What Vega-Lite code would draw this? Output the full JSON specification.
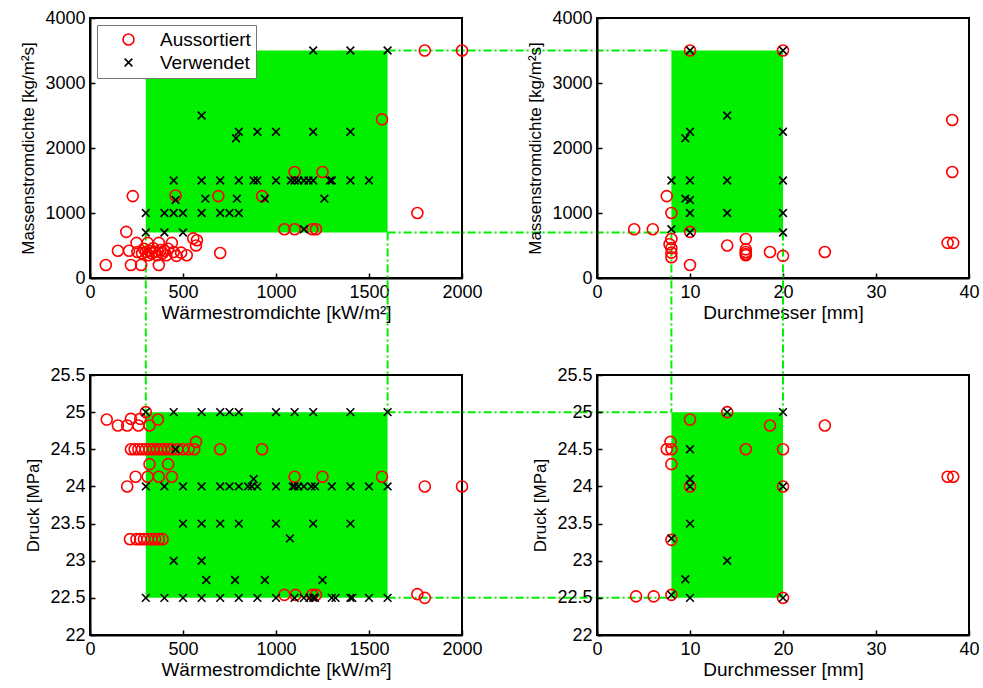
{
  "$schema": "https://vega.github.io/schema/vega-lite/v6.json",
  "padding": {"left": 18, "top": 8, "right": 2, "bottom": 4},
  "columns": 2,
  "spacing": {"row": 97, "column": 135},
  "bounds": "flush",
  "resolve": {"legend": {"color": "independent", "shape": "independent"}},
  "config": {
    "font": "Liberation Sans",
    "view": {"stroke": "black", "strokeWidth": 2},
    "axis": {
      "labelFont": "Liberation Sans", "titleFont": "Liberation Sans",
      "labelFontSize": 18, "titleFontSize": 17, "titleFontWeight": "normal",
      "labelColor": "black", "titleColor": "black",
      "domainColor": "black", "domainWidth": 2,
      "tickColor": "black", "tickWidth": 1.5, "tickSize": -5,
      "labelPadding": 10, "grid": false, "labelFlush": false, "labelOverlap": false, "labelSeparation": -40
    },
    "axisX": {"titleFontSize": 19, "titlePadding": 2},
    "axisY": {"titlePadding": 7},
    "legend": {
      "labelFont": "Liberation Sans", "labelFontSize": 19, "labelColor": "black",
      "strokeColor": "#777777", "fillColor": "white", "padding": 5,
      "symbolSize": 121, "symbolStrokeWidth": 1.6, "symbolOffset": 17, "labelOffset": 22, "rowPadding": 3
    },
    "point": {"opacity": 1}
  },
  "datasets": {
    "bereich": [{"q_min": 300, "q_max": 1600, "G_min": 700, "G_max": 3500, "d_min": 8, "d_max": 20, "p_min": 22.5, "p_max": 25}],
    "linien_ol": [
      {"q": 1600, "q_end": 3126, "G": 3500, "G_end": 3500},
      {"q": 1600, "q_end": 3126, "G": 700, "G_end": 700},
      {"q": 300, "q_end": 300, "G": 700, "G_end": -2064},
      {"q": 1600, "q_end": 1600, "G": 700, "G_end": -2064}
    ],
    "linien_or": [
      {"d": 8, "d_end": 8, "G": 700, "G_end": -2064},
      {"d": 20, "d_end": 20, "G": 700, "G_end": -2064}
    ],
    "linien_ul": [
      {"q": 1600, "q_end": 3126, "p": 25, "p_end": 25},
      {"q": 1600, "q_end": 3126, "p": 22.5, "p_end": 22.5}
    ],
    "oben_links": [
      {"q": 85, "G": 200, "Status": "Aussortiert"}, {"q": 150, "G": 420, "Status": "Aussortiert"},
      {"q": 195, "G": 710, "Status": "Aussortiert"}, {"q": 210, "G": 420, "Status": "Aussortiert"},
      {"q": 220, "G": 200, "Status": "Aussortiert"}, {"q": 230, "G": 1260, "Status": "Aussortiert"},
      {"q": 250, "G": 540, "Status": "Aussortiert"}, {"q": 255, "G": 400, "Status": "Aussortiert"},
      {"q": 275, "G": 200, "Status": "Aussortiert"}, {"q": 280, "G": 380, "Status": "Aussortiert"},
      {"q": 290, "G": 450, "Status": "Aussortiert"}, {"q": 300, "G": 400, "Status": "Aussortiert"},
      {"q": 310, "G": 540, "Status": "Aussortiert"}, {"q": 315, "G": 350, "Status": "Aussortiert"},
      {"q": 320, "G": 420, "Status": "Aussortiert"}, {"q": 330, "G": 380, "Status": "Aussortiert"},
      {"q": 340, "G": 460, "Status": "Aussortiert"}, {"q": 350, "G": 400, "Status": "Aussortiert"},
      {"q": 360, "G": 350, "Status": "Aussortiert"}, {"q": 370, "G": 200, "Status": "Aussortiert"},
      {"q": 370, "G": 540, "Status": "Aussortiert"}, {"q": 380, "G": 430, "Status": "Aussortiert"},
      {"q": 390, "G": 380, "Status": "Aussortiert"}, {"q": 400, "G": 420, "Status": "Aussortiert"},
      {"q": 410, "G": 350, "Status": "Aussortiert"}, {"q": 420, "G": 450, "Status": "Aussortiert"},
      {"q": 440, "G": 540, "Status": "Aussortiert"}, {"q": 450, "G": 400, "Status": "Aussortiert"},
      {"q": 460, "G": 1270, "Status": "Aussortiert"}, {"q": 465, "G": 340, "Status": "Aussortiert"},
      {"q": 490, "G": 390, "Status": "Aussortiert"}, {"q": 520, "G": 350, "Status": "Aussortiert"},
      {"q": 555, "G": 610, "Status": "Aussortiert"}, {"q": 570, "G": 500, "Status": "Aussortiert"},
      {"q": 575, "G": 580, "Status": "Aussortiert"}, {"q": 690, "G": 1260, "Status": "Aussortiert"},
      {"q": 700, "G": 385, "Status": "Aussortiert"}, {"q": 925, "G": 1260, "Status": "Aussortiert"},
      {"q": 1045, "G": 750, "Status": "Aussortiert"}, {"q": 1100, "G": 750, "Status": "Aussortiert"},
      {"q": 1100, "G": 1630, "Status": "Aussortiert"}, {"q": 1195, "G": 750, "Status": "Aussortiert"},
      {"q": 1215, "G": 750, "Status": "Aussortiert"}, {"q": 1250, "G": 1630, "Status": "Aussortiert"},
      {"q": 1570, "G": 2440, "Status": "Aussortiert"}, {"q": 1760, "G": 1000, "Status": "Aussortiert"},
      {"q": 1800, "G": 3500, "Status": "Aussortiert"}, {"q": 2000, "G": 3500, "Status": "Aussortiert"},
      {"q": 300, "G": 1000, "Status": "Verwendet"}, {"q": 400, "G": 1000, "Status": "Verwendet"},
      {"q": 450, "G": 1000, "Status": "Verwendet"}, {"q": 500, "G": 1000, "Status": "Verwendet"},
      {"q": 600, "G": 1000, "Status": "Verwendet"}, {"q": 700, "G": 1000, "Status": "Verwendet"},
      {"q": 750, "G": 1000, "Status": "Verwendet"}, {"q": 800, "G": 1000, "Status": "Verwendet"},
      {"q": 300, "G": 700, "Status": "Verwendet"}, {"q": 400, "G": 700, "Status": "Verwendet"},
      {"q": 500, "G": 700, "Status": "Verwendet"},
      {"q": 450, "G": 1500, "Status": "Verwendet"}, {"q": 600, "G": 1500, "Status": "Verwendet"},
      {"q": 700, "G": 1500, "Status": "Verwendet"}, {"q": 800, "G": 1500, "Status": "Verwendet"},
      {"q": 880, "G": 1500, "Status": "Verwendet"}, {"q": 900, "G": 1500, "Status": "Verwendet"},
      {"q": 1000, "G": 1500, "Status": "Verwendet"}, {"q": 1080, "G": 1500, "Status": "Verwendet"},
      {"q": 1100, "G": 1500, "Status": "Verwendet"}, {"q": 1120, "G": 1500, "Status": "Verwendet"},
      {"q": 1150, "G": 1500, "Status": "Verwendet"}, {"q": 1175, "G": 1500, "Status": "Verwendet"},
      {"q": 1200, "G": 1500, "Status": "Verwendet"}, {"q": 1290, "G": 1500, "Status": "Verwendet"},
      {"q": 1300, "G": 1500, "Status": "Verwendet"}, {"q": 1400, "G": 1500, "Status": "Verwendet"},
      {"q": 1500, "G": 1500, "Status": "Verwendet"},
      {"q": 460, "G": 1200, "Status": "Verwendet"}, {"q": 620, "G": 1220, "Status": "Verwendet"},
      {"q": 790, "G": 1220, "Status": "Verwendet"}, {"q": 940, "G": 1220, "Status": "Verwendet"},
      {"q": 1260, "G": 1220, "Status": "Verwendet"}, {"q": 1150, "G": 750, "Status": "Verwendet"},
      {"q": 800, "G": 2250, "Status": "Verwendet"}, {"q": 900, "G": 2250, "Status": "Verwendet"},
      {"q": 1000, "G": 2250, "Status": "Verwendet"}, {"q": 1200, "G": 2250, "Status": "Verwendet"},
      {"q": 1400, "G": 2250, "Status": "Verwendet"}, {"q": 785, "G": 2150, "Status": "Verwendet"},
      {"q": 600, "G": 2500, "Status": "Verwendet"}, {"q": 1200, "G": 3500, "Status": "Verwendet"},
      {"q": 1400, "G": 3500, "Status": "Verwendet"}, {"q": 1600, "G": 3500, "Status": "Verwendet"}
    ],
    "oben_rechts": [
      {"d": 10, "G": 3500, "Status": "Aussortiert"}, {"d": 20, "G": 3500, "Status": "Aussortiert"},
      {"d": 7.5, "G": 1260, "Status": "Aussortiert"}, {"d": 8, "G": 1000, "Status": "Aussortiert"},
      {"d": 4, "G": 750, "Status": "Aussortiert"}, {"d": 6, "G": 750, "Status": "Aussortiert"},
      {"d": 10, "G": 710, "Status": "Aussortiert"}, {"d": 8, "G": 600, "Status": "Aussortiert"},
      {"d": 7.8, "G": 520, "Status": "Aussortiert"}, {"d": 8, "G": 460, "Status": "Aussortiert"},
      {"d": 8, "G": 390, "Status": "Aussortiert"}, {"d": 8, "G": 320, "Status": "Aussortiert"},
      {"d": 10, "G": 200, "Status": "Aussortiert"}, {"d": 14, "G": 500, "Status": "Aussortiert"},
      {"d": 16, "G": 600, "Status": "Aussortiert"}, {"d": 16, "G": 440, "Status": "Aussortiert"},
      {"d": 16, "G": 400, "Status": "Aussortiert"}, {"d": 16, "G": 370, "Status": "Aussortiert"},
      {"d": 16, "G": 350, "Status": "Aussortiert"}, {"d": 18.6, "G": 400, "Status": "Aussortiert"},
      {"d": 20, "G": 340, "Status": "Aussortiert"}, {"d": 24.5, "G": 400, "Status": "Aussortiert"},
      {"d": 38.2, "G": 2430, "Status": "Aussortiert"}, {"d": 38.2, "G": 1630, "Status": "Aussortiert"},
      {"d": 37.7, "G": 540, "Status": "Aussortiert"}, {"d": 38.3, "G": 540, "Status": "Aussortiert"},
      {"d": 10, "G": 3500, "Status": "Verwendet"}, {"d": 20, "G": 3500, "Status": "Verwendet"},
      {"d": 14, "G": 2500, "Status": "Verwendet"}, {"d": 10, "G": 2250, "Status": "Verwendet"},
      {"d": 9.5, "G": 2150, "Status": "Verwendet"}, {"d": 20, "G": 2250, "Status": "Verwendet"},
      {"d": 8, "G": 1500, "Status": "Verwendet"}, {"d": 10, "G": 1500, "Status": "Verwendet"},
      {"d": 14, "G": 1500, "Status": "Verwendet"}, {"d": 20, "G": 1500, "Status": "Verwendet"},
      {"d": 9.5, "G": 1220, "Status": "Verwendet"}, {"d": 10, "G": 1200, "Status": "Verwendet"},
      {"d": 10, "G": 1000, "Status": "Verwendet"}, {"d": 14, "G": 1000, "Status": "Verwendet"},
      {"d": 20, "G": 1000, "Status": "Verwendet"}, {"d": 8, "G": 750, "Status": "Verwendet"},
      {"d": 10, "G": 700, "Status": "Verwendet"}, {"d": 20, "G": 700, "Status": "Verwendet"}
    ],
    "unten_links": [
      {"q": 90, "p": 24.9, "Status": "Aussortiert"}, {"q": 150, "p": 24.82, "Status": "Aussortiert"},
      {"q": 200, "p": 24.82, "Status": "Aussortiert"}, {"q": 220, "p": 24.91, "Status": "Aussortiert"},
      {"q": 260, "p": 24.82, "Status": "Aussortiert"}, {"q": 270, "p": 24.91, "Status": "Aussortiert"},
      {"q": 300, "p": 25.0, "Status": "Aussortiert"}, {"q": 320, "p": 24.82, "Status": "Aussortiert"},
      {"q": 365, "p": 24.9, "Status": "Aussortiert"},
      {"q": 220, "p": 24.5, "Status": "Aussortiert"}, {"q": 240, "p": 24.5, "Status": "Aussortiert"},
      {"q": 260, "p": 24.5, "Status": "Aussortiert"}, {"q": 280, "p": 24.5, "Status": "Aussortiert"},
      {"q": 300, "p": 24.5, "Status": "Aussortiert"}, {"q": 320, "p": 24.5, "Status": "Aussortiert"},
      {"q": 340, "p": 24.5, "Status": "Aussortiert"}, {"q": 360, "p": 24.5, "Status": "Aussortiert"},
      {"q": 380, "p": 24.5, "Status": "Aussortiert"}, {"q": 400, "p": 24.5, "Status": "Aussortiert"},
      {"q": 420, "p": 24.5, "Status": "Aussortiert"}, {"q": 440, "p": 24.5, "Status": "Aussortiert"},
      {"q": 470, "p": 24.5, "Status": "Aussortiert"}, {"q": 500, "p": 24.5, "Status": "Aussortiert"},
      {"q": 530, "p": 24.5, "Status": "Aussortiert"}, {"q": 560, "p": 24.5, "Status": "Aussortiert"},
      {"q": 700, "p": 24.5, "Status": "Aussortiert"}, {"q": 925, "p": 24.5, "Status": "Aussortiert"},
      {"q": 570, "p": 24.6, "Status": "Aussortiert"}, {"q": 320, "p": 24.3, "Status": "Aussortiert"},
      {"q": 420, "p": 24.3, "Status": "Aussortiert"}, {"q": 245, "p": 24.13, "Status": "Aussortiert"},
      {"q": 310, "p": 24.13, "Status": "Aussortiert"}, {"q": 370, "p": 24.13, "Status": "Aussortiert"},
      {"q": 440, "p": 24.13, "Status": "Aussortiert"}, {"q": 200, "p": 24.0, "Status": "Aussortiert"},
      {"q": 1100, "p": 24.13, "Status": "Aussortiert"}, {"q": 1250, "p": 24.13, "Status": "Aussortiert"},
      {"q": 1570, "p": 24.13, "Status": "Aussortiert"}, {"q": 1800, "p": 24.0, "Status": "Aussortiert"},
      {"q": 2000, "p": 24.0, "Status": "Aussortiert"},
      {"q": 215, "p": 23.29, "Status": "Aussortiert"}, {"q": 250, "p": 23.29, "Status": "Aussortiert"},
      {"q": 270, "p": 23.29, "Status": "Aussortiert"}, {"q": 290, "p": 23.29, "Status": "Aussortiert"},
      {"q": 310, "p": 23.29, "Status": "Aussortiert"}, {"q": 330, "p": 23.29, "Status": "Aussortiert"},
      {"q": 350, "p": 23.29, "Status": "Aussortiert"}, {"q": 370, "p": 23.29, "Status": "Aussortiert"},
      {"q": 390, "p": 23.29, "Status": "Aussortiert"},
      {"q": 1045, "p": 22.54, "Status": "Aussortiert"}, {"q": 1105, "p": 22.54, "Status": "Aussortiert"},
      {"q": 1195, "p": 22.54, "Status": "Aussortiert"}, {"q": 1215, "p": 22.54, "Status": "Aussortiert"},
      {"q": 1760, "p": 22.55, "Status": "Aussortiert"}, {"q": 1800, "p": 22.5, "Status": "Aussortiert"},
      {"q": 300, "p": 25, "Status": "Verwendet"}, {"q": 450, "p": 25, "Status": "Verwendet"},
      {"q": 600, "p": 25, "Status": "Verwendet"}, {"q": 700, "p": 25, "Status": "Verwendet"},
      {"q": 750, "p": 25, "Status": "Verwendet"}, {"q": 800, "p": 25, "Status": "Verwendet"},
      {"q": 1000, "p": 25, "Status": "Verwendet"}, {"q": 1100, "p": 25, "Status": "Verwendet"},
      {"q": 1200, "p": 25, "Status": "Verwendet"}, {"q": 1400, "p": 25, "Status": "Verwendet"},
      {"q": 1600, "p": 25, "Status": "Verwendet"}, {"q": 460, "p": 24.5, "Status": "Verwendet"},
      {"q": 300, "p": 24, "Status": "Verwendet"}, {"q": 400, "p": 24, "Status": "Verwendet"},
      {"q": 500, "p": 24, "Status": "Verwendet"}, {"q": 600, "p": 24, "Status": "Verwendet"},
      {"q": 700, "p": 24, "Status": "Verwendet"}, {"q": 750, "p": 24, "Status": "Verwendet"},
      {"q": 800, "p": 24, "Status": "Verwendet"}, {"q": 850, "p": 24, "Status": "Verwendet"},
      {"q": 870, "p": 24, "Status": "Verwendet"}, {"q": 900, "p": 24, "Status": "Verwendet"},
      {"q": 1000, "p": 24, "Status": "Verwendet"}, {"q": 1090, "p": 24, "Status": "Verwendet"},
      {"q": 1100, "p": 24, "Status": "Verwendet"}, {"q": 1120, "p": 24, "Status": "Verwendet"},
      {"q": 1150, "p": 24, "Status": "Verwendet"}, {"q": 1190, "p": 24, "Status": "Verwendet"},
      {"q": 1210, "p": 24, "Status": "Verwendet"}, {"q": 1300, "p": 24, "Status": "Verwendet"},
      {"q": 1400, "p": 24, "Status": "Verwendet"}, {"q": 1500, "p": 24, "Status": "Verwendet"},
      {"q": 1600, "p": 24, "Status": "Verwendet"}, {"q": 880, "p": 24.1, "Status": "Verwendet"},
      {"q": 500, "p": 23.5, "Status": "Verwendet"}, {"q": 600, "p": 23.5, "Status": "Verwendet"},
      {"q": 700, "p": 23.5, "Status": "Verwendet"}, {"q": 800, "p": 23.5, "Status": "Verwendet"},
      {"q": 1000, "p": 23.5, "Status": "Verwendet"}, {"q": 1200, "p": 23.5, "Status": "Verwendet"},
      {"q": 1400, "p": 23.5, "Status": "Verwendet"}, {"q": 1075, "p": 23.3, "Status": "Verwendet"},
      {"q": 450, "p": 23, "Status": "Verwendet"}, {"q": 600, "p": 23, "Status": "Verwendet"},
      {"q": 625, "p": 22.74, "Status": "Verwendet"}, {"q": 780, "p": 22.74, "Status": "Verwendet"},
      {"q": 940, "p": 22.74, "Status": "Verwendet"}, {"q": 1250, "p": 22.74, "Status": "Verwendet"},
      {"q": 300, "p": 22.5, "Status": "Verwendet"}, {"q": 400, "p": 22.5, "Status": "Verwendet"},
      {"q": 500, "p": 22.5, "Status": "Verwendet"}, {"q": 600, "p": 22.5, "Status": "Verwendet"},
      {"q": 700, "p": 22.5, "Status": "Verwendet"}, {"q": 800, "p": 22.5, "Status": "Verwendet"},
      {"q": 900, "p": 22.5, "Status": "Verwendet"}, {"q": 1000, "p": 22.5, "Status": "Verwendet"},
      {"q": 1100, "p": 22.5, "Status": "Verwendet"}, {"q": 1150, "p": 22.5, "Status": "Verwendet"},
      {"q": 1180, "p": 22.5, "Status": "Verwendet"}, {"q": 1200, "p": 22.5, "Status": "Verwendet"},
      {"q": 1210, "p": 22.5, "Status": "Verwendet"}, {"q": 1300, "p": 22.5, "Status": "Verwendet"},
      {"q": 1320, "p": 22.5, "Status": "Verwendet"}, {"q": 1400, "p": 22.5, "Status": "Verwendet"},
      {"q": 1410, "p": 22.5, "Status": "Verwendet"}, {"q": 1500, "p": 22.5, "Status": "Verwendet"},
      {"q": 1600, "p": 22.5, "Status": "Verwendet"}
    ],
    "unten_rechts": [
      {"d": 14, "p": 25.0, "Status": "Aussortiert"}, {"d": 10, "p": 24.9, "Status": "Aussortiert"},
      {"d": 18.6, "p": 24.82, "Status": "Aussortiert"}, {"d": 24.5, "p": 24.82, "Status": "Aussortiert"},
      {"d": 7.9, "p": 24.6, "Status": "Aussortiert"}, {"d": 7.5, "p": 24.5, "Status": "Aussortiert"},
      {"d": 8, "p": 24.5, "Status": "Aussortiert"}, {"d": 8, "p": 24.3, "Status": "Aussortiert"},
      {"d": 10, "p": 24.0, "Status": "Aussortiert"}, {"d": 16, "p": 24.5, "Status": "Aussortiert"},
      {"d": 20, "p": 24.5, "Status": "Aussortiert"}, {"d": 20, "p": 24.0, "Status": "Aussortiert"},
      {"d": 8, "p": 23.28, "Status": "Aussortiert"}, {"d": 4.2, "p": 22.52, "Status": "Aussortiert"},
      {"d": 6.1, "p": 22.52, "Status": "Aussortiert"}, {"d": 8, "p": 22.54, "Status": "Aussortiert"},
      {"d": 20, "p": 22.5, "Status": "Aussortiert"}, {"d": 37.7, "p": 24.13, "Status": "Aussortiert"},
      {"d": 38.3, "p": 24.13, "Status": "Aussortiert"},
      {"d": 14, "p": 25.0, "Status": "Verwendet"}, {"d": 20, "p": 25.0, "Status": "Verwendet"},
      {"d": 10, "p": 24.5, "Status": "Verwendet"}, {"d": 10, "p": 24.1, "Status": "Verwendet"},
      {"d": 10, "p": 24.0, "Status": "Verwendet"}, {"d": 20, "p": 24.0, "Status": "Verwendet"},
      {"d": 10, "p": 23.5, "Status": "Verwendet"}, {"d": 8, "p": 23.3, "Status": "Verwendet"},
      {"d": 14, "p": 23.0, "Status": "Verwendet"}, {"d": 9.5, "p": 22.75, "Status": "Verwendet"},
      {"d": 8, "p": 22.54, "Status": "Verwendet"}, {"d": 10, "p": 22.5, "Status": "Verwendet"},
      {"d": 20, "p": 22.5, "Status": "Verwendet"}
    ]
  },
  "concat": [
    {
      "width": 372, "height": 260,
      "layer": [
        {
          "data": {"name": "bereich"},
          "mark": {"type": "rect", "color": "#00f000"},
          "encoding": {
            "x": {"field": "q_min", "type": "quantitative", "scale": {"domain": [0, 2000], "nice": false},
                  "axis": {"title": "Wärmestromdichte [kW/m²]", "values": [0, 500, 1000, 1500, 2000], "format": "d"}},
            "x2": {"field": "q_max"},
            "y": {"field": "G_min", "type": "quantitative", "scale": {"domain": [0, 4000], "nice": false},
                  "axis": {"title": "Massenstromdichte [kg/m²s]", "values": [0, 1000, 2000, 3000, 4000], "format": "d"}},
            "y2": {"field": "G_max"}
          }
        },
        {
          "data": {"name": "linien_ol"},
          "mark": {"type": "rule", "color": "#00f000", "strokeWidth": 2, "strokeDash": [8, 3, 2, 3]},
          "encoding": {
            "x": {"field": "q", "type": "quantitative", "scale": {"domain": [0, 2000], "nice": false}},
            "x2": {"field": "q_end"},
            "y": {"field": "G", "type": "quantitative", "scale": {"domain": [0, 4000], "nice": false}},
            "y2": {"field": "G_end"}
          }
        },
        {
          "data": {"name": "oben_links"},
          "mark": {"type": "point", "filled": false, "strokeWidth": 1.6, "size": 121, "opacity": 1},
          "encoding": {
            "x": {"field": "q", "type": "quantitative", "scale": {"domain": [0, 2000], "nice": false}},
            "y": {"field": "G", "type": "quantitative", "scale": {"domain": [0, 4000], "nice": false}},
            "color": {"field": "Status", "type": "nominal",
                      "scale": {"domain": ["Aussortiert", "Verwendet"], "range": ["#ff0000", "#000000"]},
                      "legend": {"title": null, "orient": "top-left", "offset": 7}},
            "shape": {"field": "Status", "type": "nominal",
                      "scale": {"domain": ["Aussortiert", "Verwendet"], "range": ["circle", "M-0.7,-0.7L0.7,0.7M-0.7,0.7L0.7,-0.7"]},
                      "legend": {"title": null, "orient": "top-left", "offset": 7}}
          }
        }
      ]
    },
    {
      "width": 372, "height": 260,
      "layer": [
        {
          "data": {"name": "bereich"},
          "mark": {"type": "rect", "color": "#00f000"},
          "encoding": {
            "x": {"field": "d_min", "type": "quantitative", "scale": {"domain": [0, 40], "nice": false},
                  "axis": {"title": "Durchmesser [mm]", "values": [0, 10, 20, 30, 40], "format": "d"}},
            "x2": {"field": "d_max"},
            "y": {"field": "G_min", "type": "quantitative", "scale": {"domain": [0, 4000], "nice": false},
                  "axis": {"title": "Massenstromdichte [kg/m²s]", "values": [0, 1000, 2000, 3000, 4000], "format": "d"}},
            "y2": {"field": "G_max"}
          }
        },
        {
          "data": {"name": "linien_or"},
          "mark": {"type": "rule", "color": "#00f000", "strokeWidth": 2, "strokeDash": [8, 3, 2, 3]},
          "encoding": {
            "x": {"field": "d", "type": "quantitative", "scale": {"domain": [0, 40], "nice": false}},
            "x2": {"field": "d_end"},
            "y": {"field": "G", "type": "quantitative", "scale": {"domain": [0, 4000], "nice": false}},
            "y2": {"field": "G_end"}
          }
        },
        {
          "data": {"name": "oben_rechts"},
          "mark": {"type": "point", "filled": false, "strokeWidth": 1.6, "size": 121, "opacity": 1},
          "encoding": {
            "x": {"field": "d", "type": "quantitative", "scale": {"domain": [0, 40], "nice": false}},
            "y": {"field": "G", "type": "quantitative", "scale": {"domain": [0, 4000], "nice": false}},
            "color": {"field": "Status", "type": "nominal", "legend": null},
            "shape": {"field": "Status", "type": "nominal", "legend": null}
          }
        }
      ]
    },
    {
      "width": 372, "height": 260,
      "layer": [
        {
          "data": {"name": "bereich"},
          "mark": {"type": "rect", "color": "#00f000"},
          "encoding": {
            "x": {"field": "q_min", "type": "quantitative", "scale": {"domain": [0, 2000], "nice": false},
                  "axis": {"title": "Wärmestromdichte [kW/m²]", "values": [0, 500, 1000, 1500, 2000], "format": "d"}},
            "x2": {"field": "q_max"},
            "y": {"field": "p_min", "type": "quantitative", "scale": {"domain": [22, 25.5], "nice": false, "zero": false},
                  "axis": {"title": "Druck [MPa]", "values": [22, 22.5, 23, 23.5, 24, 24.5, 25, 25.5], "tickCount": 8, "labelOverlap": false,
                           "labelExpr": "replace(format(datum.value, '.1f'), '.0', '')"}},
            "y2": {"field": "p_max"}
          }
        },
        {
          "data": {"name": "linien_ul"},
          "mark": {"type": "rule", "color": "#00f000", "strokeWidth": 2, "strokeDash": [8, 3, 2, 3]},
          "encoding": {
            "x": {"field": "q", "type": "quantitative", "scale": {"domain": [0, 2000], "nice": false}},
            "x2": {"field": "q_end"},
            "y": {"field": "p", "type": "quantitative", "scale": {"domain": [22, 25.5], "nice": false, "zero": false}},
            "y2": {"field": "p_end"}
          }
        },
        {
          "data": {"name": "unten_links"},
          "mark": {"type": "point", "filled": false, "strokeWidth": 1.6, "size": 121, "opacity": 1},
          "encoding": {
            "x": {"field": "q", "type": "quantitative", "scale": {"domain": [0, 2000], "nice": false}},
            "y": {"field": "p", "type": "quantitative", "scale": {"domain": [22, 25.5], "nice": false, "zero": false}},
            "color": {"field": "Status", "type": "nominal", "legend": null},
            "shape": {"field": "Status", "type": "nominal", "legend": null}
          }
        }
      ]
    },
    {
      "width": 372, "height": 260,
      "layer": [
        {
          "data": {"name": "bereich"},
          "mark": {"type": "rect", "color": "#00f000"},
          "encoding": {
            "x": {"field": "d_min", "type": "quantitative", "scale": {"domain": [0, 40], "nice": false},
                  "axis": {"title": "Durchmesser [mm]", "values": [0, 10, 20, 30, 40], "format": "d"}},
            "x2": {"field": "d_max"},
            "y": {"field": "p_min", "type": "quantitative", "scale": {"domain": [22, 25.5], "nice": false, "zero": false},
                  "axis": {"title": "Druck [MPa]", "values": [22, 22.5, 23, 23.5, 24, 24.5, 25, 25.5], "tickCount": 8, "labelOverlap": false,
                           "labelExpr": "replace(format(datum.value, '.1f'), '.0', '')"}},
            "y2": {"field": "p_max"}
          }
        },
        {
          "data": {"name": "unten_rechts"},
          "mark": {"type": "point", "filled": false, "strokeWidth": 1.6, "size": 121, "opacity": 1},
          "encoding": {
            "x": {"field": "d", "type": "quantitative", "scale": {"domain": [0, 40], "nice": false}},
            "y": {"field": "p", "type": "quantitative", "scale": {"domain": [22, 25.5], "nice": false, "zero": false}},
            "color": {"field": "Status", "type": "nominal", "legend": null},
            "shape": {"field": "Status", "type": "nominal", "legend": null}
          }
        }
      ]
    }
  ]
}
